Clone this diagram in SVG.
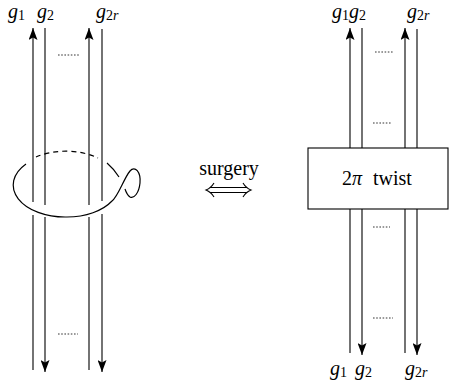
<svg xmlns="http://www.w3.org/2000/svg" width="449" height="385" viewBox="0 0 449 385">
<style>
.s{stroke:#000;stroke-width:1.1;fill:none}
.a{stroke:#000;stroke-width:1.1;fill:none;marker-end:url(#ah)}
.d{stroke:#000;stroke-width:0.8;stroke-dasharray:1.6 1.6;fill:none}
.k{stroke:#000;stroke-width:1.2;fill:none}
.kd{stroke:#000;stroke-width:1.2;fill:none;stroke-dasharray:5 4}
.g{font-family:"Liberation Serif",serif;font-style:italic;font-size:20px;fill:#000}
.sub{font-family:"Liberation Serif",serif;font-style:normal;font-size:14px;fill:#000}
.t{font-family:"Liberation Serif",serif;font-size:20px;fill:#000}
</style>
<defs>
<marker id="ah" viewBox="0 0 12 9" refX="12" refY="4.5" markerWidth="12" markerHeight="9" markerUnits="userSpaceOnUse" orient="auto">
<path d="M0,0 L12,4.5 L0,9 L2.5,4.5 Z" fill="#000"/>
</marker>
</defs>
<rect width="449" height="385" fill="#fff"/>

<g id="left-tangle">
<text class="g" x="8" y="18">g<tspan class="sub" dy="2">1</tspan></text>
<text class="g" x="37" y="18">g<tspan class="sub" dy="2">2</tspan></text>
<text class="g" x="96" y="18">g<tspan class="sub" dy="2">2<tspan font-style="italic">r</tspan></tspan></text>
<path class="a" d="M33,202 L33,28"/>
<path class="s" d="M45,205 L45,28"/>
<path class="a" d="M89,205 L89,28"/>
<path class="s" d="M102,201 L102,29"/>
<path class="s" d="M33,215 L33,370"/>
<path class="a" d="M45,217 L45,372"/>
<path class="s" d="M89,217 L89,370"/>
<path class="a" d="M102,214 L102,372"/>
<line class="d" x1="58" y1="55" x2="79" y2="55"/>
<line class="d" x1="58" y1="334" x2="78" y2="334"/>
<path class="kd" d="M36,157 A52,32 0 0 1 98,158"/>
<path class="k" d="M26,164 A52,32 0 0 0 67,217 A52,32 0 0 0 112,201 C118,197 124,178 130,171 C135,165 141,172 140,183 C139,193 134,199 130,197 C127,195 126,192 125,189"/>
<path class="k" d="M107,163 Q114,169 119,177"/>
</g>

<g id="surgery">
<text class="t" x="229" y="175" text-anchor="middle">surgery</text>
</g>

<g id="connectors">
<path class="s" d="M210,187.5 L247,187.5 M210,192.5 L247,192.5"/>
<path class="s" d="M214,183 Q211,188 206,190 Q211,192 214,197"/>
<path class="s" d="M243,183 Q246,188 251,190 Q246,192 243,197"/>
</g>

<g id="right-tangle">
<text class="g" x="332" y="18">g<tspan class="sub" dy="2">1</tspan><tspan dy="-2">g</tspan><tspan class="sub" dy="2">2</tspan></text>
<text class="g" x="407" y="18">g<tspan class="sub" dy="2">2<tspan font-style="italic">r</tspan></tspan></text>
<path class="a" d="M350,148 L350,28"/>
<path class="s" d="M362,148 L362,28"/>
<path class="a" d="M405,148 L405,28"/>
<path class="s" d="M417,148 L417,29"/>
<line class="d" x1="375" y1="52" x2="393" y2="52"/>
<line class="d" x1="373" y1="123" x2="392" y2="123"/>
<rect class="s" x="308" y="148" width="140" height="61"/>
<text class="t" x="342" y="185">2<tspan font-style="italic">π</tspan><tspan x="373">twist</tspan></text>
<path class="s" d="M350,209 L350,353"/>
<path class="a" d="M362,209 L362,355"/>
<path class="s" d="M405,209 L405,353"/>
<path class="a" d="M417,209 L417,355"/>
<line class="d" x1="373" y1="227" x2="390" y2="227"/>
<line class="d" x1="373" y1="318" x2="393" y2="318"/>
<text class="g" x="330" y="375">g<tspan class="sub" dy="2">1</tspan></text>
<text class="g" x="355" y="375">g<tspan class="sub" dy="2">2</tspan></text>
<text class="g" x="405" y="375">g<tspan class="sub" dy="2">2<tspan font-style="italic">r</tspan></tspan></text>
</g>
</svg>
